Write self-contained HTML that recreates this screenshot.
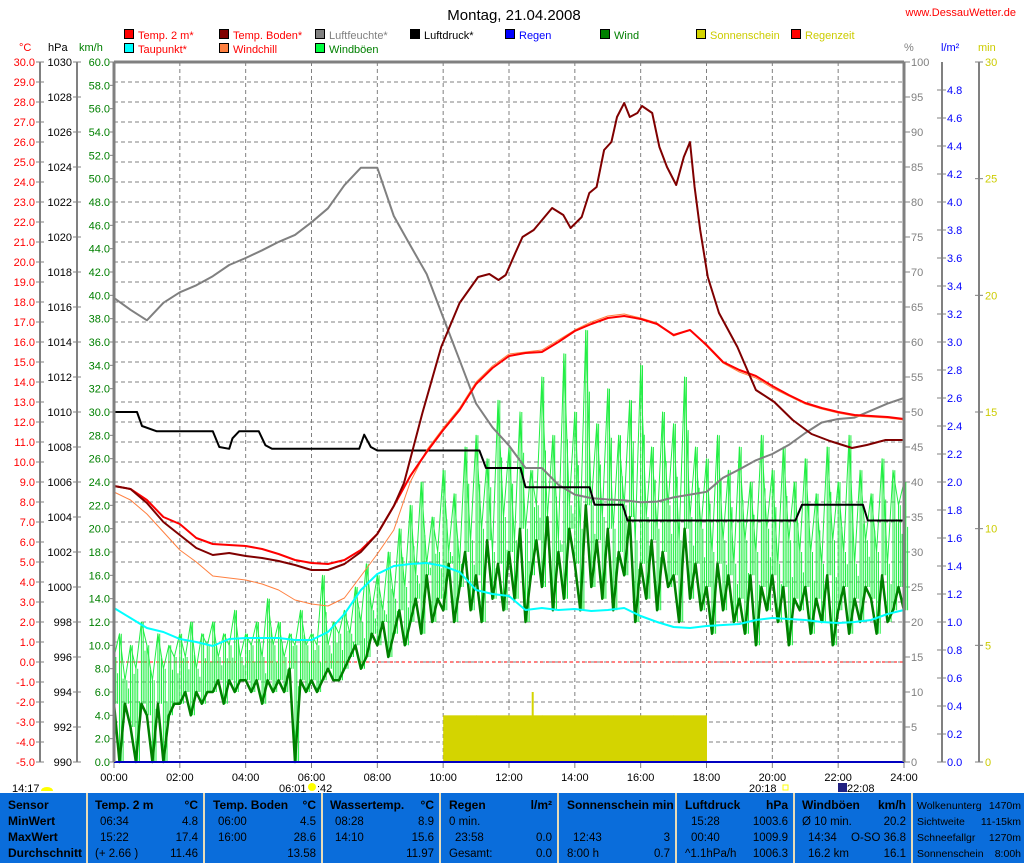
<!DOCTYPE html>
<html><head><meta charset="utf-8"><style>
html,body{margin:0;padding:0;background:#fff;}
svg{display:block;font-family:"Liberation Sans",sans-serif;}
</style></head><body>
<svg id="chart" width="1024" height="863" viewBox="0 0 1024 863" xmlns="http://www.w3.org/2000/svg">
<rect x="0" y="0" width="1024" height="863" fill="#fff"/>
<text x="514" y="20" font-size="15" text-anchor="middle" fill="#000">Montag, 21.04.2008</text>
<text x="1016" y="16" font-size="11" text-anchor="end" fill="#ff0000">www.DessauWetter.de</text>
<g id="legend" font-size="11"></g>
<g font-size="11">
<text x="19" y="51" fill="#ff0000">°C</text>
<text x="48" y="51" fill="#000">hPa</text>
<text x="79" y="51" fill="#008000">km/h</text>
<text x="904" y="51" fill="#808080">%</text>
<text x="941" y="51" fill="#0000ff">l/m²</text>
<text x="978" y="51" fill="#cccc00">min</text>
</g>
<g id="grid"></g>
<g id="axes" font-size="11"></g>
<g id="series"></g>
<g id="frame"></g>
<g font-size="11">
<text x="12" y="792" fill="#000">14:17</text>
<path d="M41 791 a6 4 0 0 1 12 0 z" fill="#ffff00"/>
<text x="279" y="792" fill="#000">06:01</text>
<circle cx="312" cy="787" r="4" fill="#ffff00"/>
<text x="317" y="792" fill="#000">:42</text>
<text x="749" y="792" fill="#000">20:18</text>
<rect x="783" y="785" width="5" height="5" fill="none" stroke="#ffff00"/>
<rect x="838" y="783" width="9" height="9" fill="#202080"/>
<text x="847" y="792" fill="#000">22:08</text>
</g>
<g id="table"></g>
</svg>
<script>
// ---- data ----
const halfHours = [0,0.5,1,1.5,2,2.5,3,3.5,4,4.5,5,5.5,6,6.5,7,7.5,8,8.5,9,9.5,10,10.5,11,11.5,12,12.5,13,13.5,14,14.5,15,15.5,16,16.5,17,17.5,18,18.5,19,19.5,20,20.5,21,21.5,22,22.5,23,23.5,24];
const temp2m = [8.8,8.65,8.1,7.25,6.9,6.2,5.9,5.85,5.8,5.65,5.4,5.1,4.95,4.9,5.1,5.6,6.4,7.8,9.3,10.5,11.6,12.6,13.9,14.7,15.3,15.45,15.5,16.0,16.55,16.9,17.2,17.3,17.15,16.9,16.35,16.6,15.85,15.0,14.6,14.3,13.8,13.35,12.95,12.7,12.5,12.35,12.3,12.25,12.15];
const windchill = [8.5,8.1,7.4,6.5,5.6,5.0,4.3,4.2,4.1,3.9,3.6,3.1,2.9,2.8,3.2,4.3,5.4,6.6,9.0,10.6,11.7,12.7,14.0,14.8,15.4,15.5,15.6,16.1,16.6,17.0,17.3,17.4,17.2,16.95,16.3,16.6,15.8,14.95,14.5,14.2,13.7,13.3,12.9,12.65,12.45,12.3,12.25,12.2,12.1];
const dewpoint = [2.7,2.2,1.7,1.5,1.15,1.0,0.8,1.15,1.2,1.2,1.2,1.1,1.1,1.5,2.4,3.6,4.4,4.8,4.9,4.95,4.8,4.5,3.6,3.4,3.3,2.6,2.7,2.6,2.65,2.55,2.6,2.7,2.3,2.0,1.75,1.7,1.8,1.85,1.9,2.1,2.2,2.15,2.1,2.0,1.95,2.0,2.1,2.4,2.6];
const humidity = [66.3,64.6,63.1,65.6,67.1,68.1,69.4,71,72,73.1,74.3,75.3,77.1,79.1,82.4,84.9,84.9,78,73.8,69.7,63.5,57.4,51.2,47.8,45.2,42,42,39.6,38.2,37.7,37.5,37.4,37.1,37.2,37.8,38.2,38.6,40.6,41.8,43.1,44,45.3,47,48.5,49,49.2,50.2,51.2,52];
const soilTimes = [0,0.5,1,1.5,2,2.5,3,3.5,4,4.5,5,5.5,6,6.5,7,7.5,8,8.5,8.81,9.37,9.94,10.5,11.06,11.4,11.68,11.9,12.19,12.41,12.75,13.31,13.65,13.87,14.21,14.44,14.66,14.89,15.11,15.28,15.5,15.67,15.9,16.04,16.35,16.57,16.8,17.08,17.31,17.5,17.64,17.81,18.04,18.38,18.94,19.5,20.06,20.62,21.19,21.75,22.42,22.87,23.44,24];
const soilTemp = [8.8,8.65,7.95,7.0,6.35,5.7,5.35,5.45,5.3,5.2,5.05,4.85,4.6,4.6,4.9,5.5,6.4,7.8,8.95,12.45,15.75,17.95,19.25,19.4,19.1,19.35,20.45,21.25,21.6,22.7,22.35,21.7,22.25,23.45,23.75,25.6,26.0,27.25,27.95,27.25,27.45,27.8,27.45,25.75,24.75,23.85,25.25,26.0,23.75,21.6,19.25,17.45,15.75,13.6,13.0,12.1,11.4,11.05,10.7,10.85,11.1,11.1];
const pressTimes = [0,0.7,0.85,1.3,3.0,3.2,3.5,3.6,3.8,4.4,4.6,4.8,7.45,7.6,7.8,8.0,11.1,11.3,12.35,12.5,14.45,14.6,15.45,15.6,20.7,20.9,22.75,22.9,24];
const pressure = [1010.0,1010.0,1009.2,1008.9,1008.9,1008.0,1007.9,1008.5,1008.9,1008.9,1008.1,1007.9,1007.9,1008.7,1008.0,1007.8,1007.8,1006.8,1006.8,1005.7,1005.7,1004.7,1004.7,1003.8,1003.8,1004.7,1004.7,1003.8,1003.8];
const gusts = [9,11,7,10,8,12, 10,7,11,8,10,9, 11,9,12,8,11,10, 12,9,11,10,13,9, 11,10,12,9,14,10, 12,9,11,10,13,10, 11,10,16,10,12,11, 13,11,15,12,17,13, 16,13,18,14,20,15, 22,16,24,17,21,18, 25,18,23,17,27,19, 28,20,26,18,31,21, 27,19,30,20,25,22, 33,21,28,19,35,22, 30,20,37,22,29,21, 32,20,28,22,31,19, 34,21,27,20,30,22, 29,19,33,21,27,20, 26,18,28,19,25,17, 27,19,24,18,28,20, 25,17,27,19,24,18, 26,18,23,17,27,19, 24,18,28,17,25,19, 23,18,26,17,25,22, 24];
const wind = [5,0,5,3,0,5, 4,0,5,0,4,5, 5,6,4,6,5,6, 6,7,5,7,6,7, 7,6,7,5,7,6, 7,6,8,0,7,6, 7,6,7,8,7,7, 8,9,10,8,9,11, 10,12,9,11,13,10, 12,14,11,16,12,14, 13,17,12,15,18,13, 16,12,19,14,17,13, 18,14,20,12,16,19, 15,21,13,18,14,20, 17,13,22,15,19,14, 20,13,18,16,21,12, 17,14,19,13,18,15, 16,12,20,14,17,13, 15,11,17,13,16,12, 14,11,16,10,15,13, 16,12,15,10,14,13, 15,11,14,12,16,10, 13,15,11,14,12,15, 14,11,16,12,13,15, 13];
const sunHours = [10,11,12,13,14,15,16,17];
const sunMinutes = [2,2,2,2,2,2,2,2];
const sunPeakTime = [12.72];
const sunPeakValue = [3];
const rainTimes = [0,24];
const rainValues = [0,0];
const xTickLabels = ["00:00","02:00","04:00","06:00","08:00","10:00","12:00","14:00","16:00","18:00","20:00","22:00","24:00"];

// ---- scales ----
const X0=114, X1=904, Y0=62, Y1=762;
const xS = h => X0 + h*(X1-X0)/24;
const yT = t => 662 - 20*t;
const yP = p => Y1 - 17.5*(p-990);
const yW = v => Y1 - (Y1-Y0)/60*v;
const yH = v => Y1 - 7*v;
const yR = v => Y1 - 140*v;
const yM = v => Y1 - (Y1-Y0)/30*v;
const NS = "http://www.w3.org/2000/svg";
function mk(tag, attrs, parent){const e=document.createElementNS(NS,tag);for(const k in attrs)e.setAttribute(k,attrs[k]);parent.appendChild(e);return e;}

// grid
const grid=document.getElementById('grid');
for(let y=82;y<Y1;y+=20){const l=mk('line',{x1:X0,x2:X1,y1:y,y2:y,stroke:'#808080','stroke-dasharray':'4,3'},grid);

}
for(let h=2;h<24;h+=2){const l=mk('line',{x1:xS(h),x2:xS(h),y1:Y0,y2:Y1,stroke:'#808080','stroke-dasharray':'4,3'},grid);

}
const zl=mk('line',{x1:X0,x2:X1,y1:yT(0),y2:yT(0),stroke:'#ff0000','stroke-dasharray':'3,3'},grid);



// axes
const axes=document.getElementById('axes');
function axisLine(x,name){const l=mk('line',{x1:x,x2:x,y1:Y0,y2:Y1,stroke:'#808080','stroke-width':2},axes);

}
axisLine(40,'celsius-axis-line');axisLine(77,'hpa-axis-line');axisLine(942,'rain-axis-line');axisLine(979,'minutes-axis-line');
function tick(x1,x2,y,name){const l=mk('line',{x1:x1,x2:x2,y1:y,y2:y,stroke:'#808080'},axes);

}
function lab(x,y,txt,fill,anchor,name){const t=mk('text',{x:x,y:y,fill:fill,'text-anchor':anchor},axes);t.textContent=txt;

}
for(let t=-5;t<=30;t++){const y=yT(t);tick(36,44,y,'celsius-tick');lab(35,y+4,t.toFixed(1),'#ff0000','end','celsius-tick-label');}
for(let p=990;p<=1030;p+=2){const y=yP(p);tick(73,81,y,'hpa-tick');lab(72,y+4,String(p),'#000','end','hpa-tick-label');}
for(let v=0;v<=60;v+=2){const y=yW(v);tick(110,114,y,'kmh-tick');lab(110,y+4,v.toFixed(1),'#008000','end','kmh-tick-label');}
for(let v=0;v<=100;v+=5){const y=yH(v);tick(904,910,y,'percent-tick');lab(911,y+4,String(v),'#808080','start','percent-tick-label');}
for(let i=0;i<=24;i++){const v=i*0.2;const y=yR(v);tick(937,946,y,'rain-tick');lab(947,y+4,v.toFixed(1),'#0000ff','start','rain-tick-label');}
for(let v=0;v<=30;v+=5){const y=yM(v);tick(975,983,y,'minutes-tick');lab(985,y+4,String(v),'#cccc00','start','minutes-tick-label');}
xTickLabels.forEach((s,i)=>{const x=xS(i*2);const l=mk('line',{x1:x,x2:x,y1:Y1,y2:Y1+6,stroke:'#808080'},axes);


lab(x,781,s,'#000','middle','x-tick-label');});

// series
const series=document.getElementById('series');
function poly(ts,vs,ys,color,w,name){const pts=ts.map((t,i)=>xS(t).toFixed(1)+','+ys(vs[i]).toFixed(1)).join(' ');
const p=mk('polyline',{points:pts,fill:'none',stroke:color,'stroke-width':w,'stroke-linejoin':'round'},series);

return p;}
// sunshine
sunHours.forEach((h,i)=>{const r=mk('rect',{x:xS(h),y:yM(sunMinutes[i]),width:xS(h+1)-xS(h)+0.5,height:Y1-yM(sunMinutes[i]),fill:'#d4d400'},series);

});
sunPeakTime.forEach((h,i)=>{const l=mk('line',{x1:xS(h),x2:xS(h),y1:yM(sunPeakValue[i]),y2:Y1,stroke:'#d4d400','stroke-width':2},series);

});
const windTimes = gusts.map((_,i)=>i/6);
// gust spikes: vertical strokes from wind to gust value, drawn from the arrays
let gd='';
gusts.forEach((g,i)=>{const x0=xS(windTimes[i]);for(let k=0;k<3;k++){const x=x0+k*1.8;const lo=yW(wind[i]);const hi=yW(g-(k===1?0:(g-wind[i])*0.35*k/2));gd+='M'+x.toFixed(1)+' '+lo.toFixed(1)+'V'+hi.toFixed(1);}});
const gs=mk('path',{d:gd,stroke:'#22ee44','stroke-width':1,fill:'none'},series);


poly(windTimes,gusts,yW,'#22ee44',1,'wind-gust-line');
poly(windTimes,wind,yW,'#008000',2.5,'wind-line');
poly(halfHours,dewpoint,yT,'#00ffff',2,'dewpoint-line');
poly(halfHours,humidity,yH,'#808080',2,'humidity-line');
poly(pressTimes,pressure,yP,'#000000',2,'pressure-line');
poly(halfHours,windchill,yT,'#ff8040',1,'windchill-line');
poly(halfHours,temp2m,yT,'#ff0000',2,'temp-2m-line');
poly(soilTimes,soilTemp,yT,'#800000',2,'soil-temp-line');
poly(rainTimes,rainValues,yR,'#0000c0',2,'rain-line');

// frame
const frame=document.getElementById('frame');
[[X0,Y0,X1,Y0],[X0,Y0,X0,Y1],[X1,Y0,X1,Y1]].forEach(c=>{const l=mk('line',{x1:c[0],y1:c[1],x2:c[2],y2:c[3],stroke:'#808080','stroke-width':3},frame);

});

// legend
const legend=document.getElementById('legend');
const legItems=[
 [124,38,'#ff0000','Temp. 2 m*','#ff0000'],[219,38,'#800000','Temp. Boden*','#ff0000'],[315,38,'#808080','Luftfeuchte*','#808080'],[410,38,'#000000','Luftdruck*','#000000'],
 [505,38,'#0000ff','Regen','#0000ff'],[600,38,'#008000','Wind','#008000'],[696,38,'#d4d400','Sonnenschein','#cccc00'],[791,38,'#ff0000','Regenzeit','#cccc00'],
 [124,52,'#00ffff','Taupunkt*','#ff0000'],[219,52,'#ff8040','Windchill','#ff0000'],[315,52,'#00ff40','Windböen','#008000']];
legItems.forEach(it=>{const g=mk('g',{},legend);


mk('rect',{x:it[0]+0.5,y:it[1]-8.5,width:9,height:9,fill:it[2],stroke:'#000'},g);
const t=mk('text',{x:it[0]+14,y:it[1]+1,fill:it[4]},g);t.textContent=it[3];});

// table
const tb=document.getElementById('table');
const bg=mk('rect',{x:0,y:793,width:1024,height:70,fill:'#0a6ddb'},tb);


[87,204,322,440,558,676,794,912].forEach(x=>{const l=mk('line',{x1:x,x2:x,y1:793,y2:863,stroke:'#e8dcb8','stroke-width':2},tb);

});
const rowsY=[809,825,841,857];
function tt(x,y,s,anchor,bold,name,fs){const t=mk('text',{x:x,y:y,'text-anchor':anchor,'font-size':fs||(bold?12:11.5),'font-weight':bold?'bold':'normal',fill:'#000'},tb);t.textContent=s;

}
['Sensor','MinWert','MaxWert','Durchschnitt'].forEach((s,i)=>tt(8,rowsY[i],s,'start',true,'row-label'));
const cols=[
 [95,198,'Temp. 2 m','°C',[['06:34','4.8'],['15:22','17.4'],['(+ 2.66 )','11.46']]],
 [213,316,'Temp. Boden','°C',[['06:00','4.5'],['16:00','28.6'],['','13.58']]],
 [330,434,'Wassertemp.','°C',[['08:28','8.9'],['14:10','15.6'],['','11.97']]],
 [449,552,'Regen','l/m²',[['0 min.',''],['  23:58','0.0'],['Gesamt:','0.0']]],
 [567,670,'Sonnenschein min','',[['',''],['  12:43','3'],['8:00 h','0.7']]],
 [685,788,'Luftdruck','hPa',[['  15:28','1003.6'],['  00:40','1009.9'],['^1.1hPa/h','1006.3']]],
 [802,906,'Windböen','km/h',[['Ø 10 min.','20.2'],['  14:34','O-SO 36.8'],['  16.2 km','16.1']]]];
cols.forEach(c=>{tt(c[0],rowsY[0],c[2],'start',true,'column-header');if(c[3])tt(c[1],rowsY[0],c[3],'end',true,'column-unit');
c[4].forEach((r,i)=>{if(r[0]){const lead=r[0].startsWith('  ')?6:(/^\d\d:/.test(r[0])&&c[0]<440?5:0);tt(c[0]+lead,rowsY[i+1],r[0].trim(),'start',false,'cell-label');}
if(r[1])tt(c[1],rowsY[i+1],r[1],'end',false,'cell-value');});});
[['Wolkenunterg','1470m'],['Sichtweite','11-15km'],['Schneefallgr','1270m'],['Sonnenschein','8:00h']].forEach((r,i)=>{tt(917,rowsY[i],r[0],'start',false,'info-label',10.5);tt(1021,rowsY[i],r[1],'end',false,'info-value',10.5);});
</script>
</body></html>
